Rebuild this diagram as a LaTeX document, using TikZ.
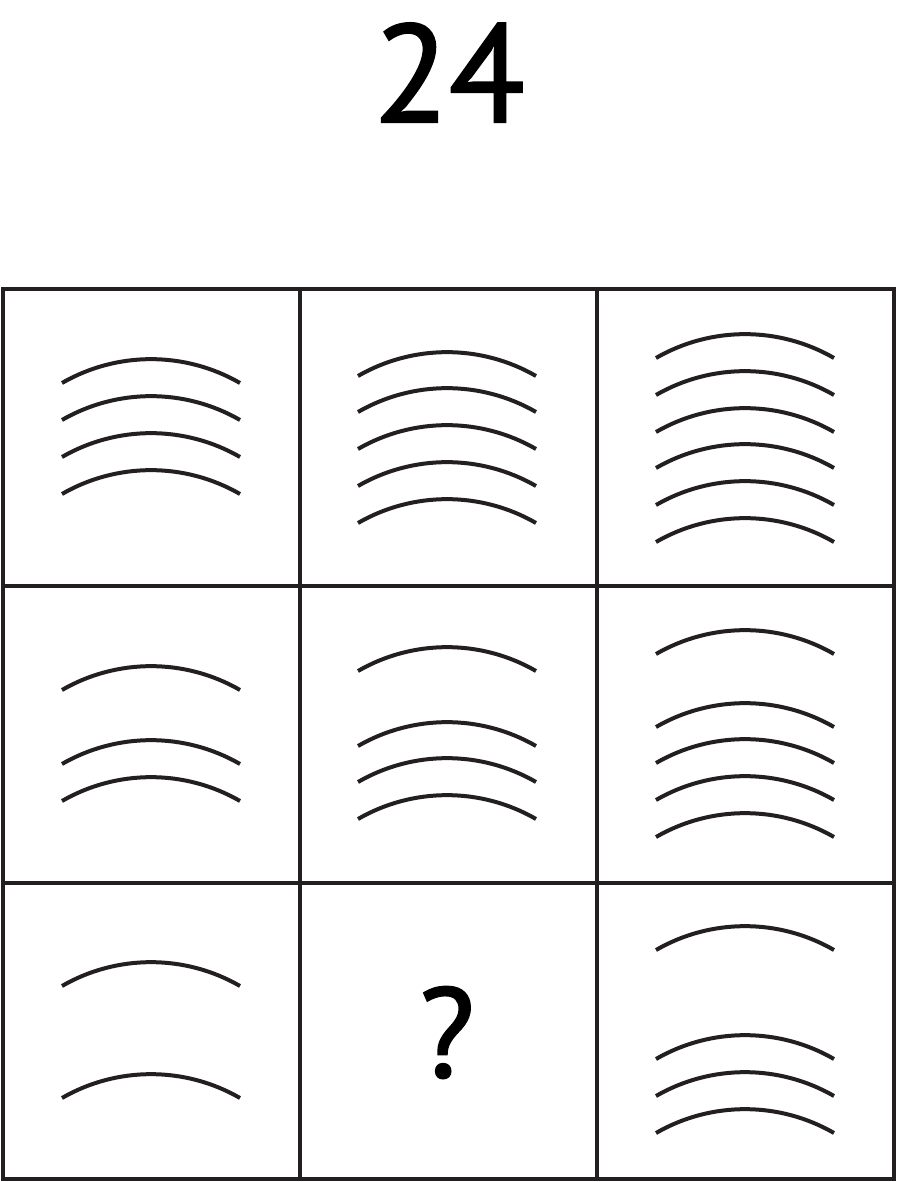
\documentclass[tikz,border=0pt]{standalone}
\usepackage{fontspec}
\setmainfont{PT Sans}
\newfontfamily\heavysans[FakeBold=1.5]{PT Sans}
\definecolor{ink}{HTML}{231F20}
\tikzset{
  gridline/.style={draw=ink, line width=3.4pt, line cap=rect},
  wave/.style={draw=ink, line width=4pt},
  label/.style={inner sep=0pt, text=black}
}
\begin{document}
\begin{tikzpicture}[x=1pt, y=-1pt]
\useasboundingbox (0,0) rectangle (896,1182);
% title
\node[label, anchor=base, font=\heavysans\fontsize{139}{140}\selectfont] (title) at (449,122) {24};
% grid
\draw[gridline] (3,289) rectangle (894,1179);
\draw[gridline] (300,289) -- (300,1179);
\draw[gridline] (597,289) -- (597,1179);
\draw[gridline] (3,586) -- (894,586);
\draw[gridline] (3,883) -- (894,883);
% arcs: left endpoint x, list of endpoint y
\newcommand{\wavegroup}[2]{%
  \foreach \yy in {#2} {\draw[wave] (#1,\yy) arc[start angle=240, end angle=300, radius=178];}}
% row 1
\wavegroup{62}{383,420,457,494}
\wavegroup{358}{376,412,449,486,523}
\wavegroup{656}{358,395,432,468,505,542}
% row 2
\wavegroup{62}{690,764,801}
\wavegroup{358}{671,746,782,819}
\wavegroup{656}{654,727,763,800,837}
% row 3
\wavegroup{62}{986,1098}
\wavegroup{656}{950,1059,1096,1133}
% question mark
\node[label, anchor=base, font=\heavysans\fontsize{127}{128}\selectfont] (q) at (447,1077) {?};
\end{tikzpicture}
\end{document}
